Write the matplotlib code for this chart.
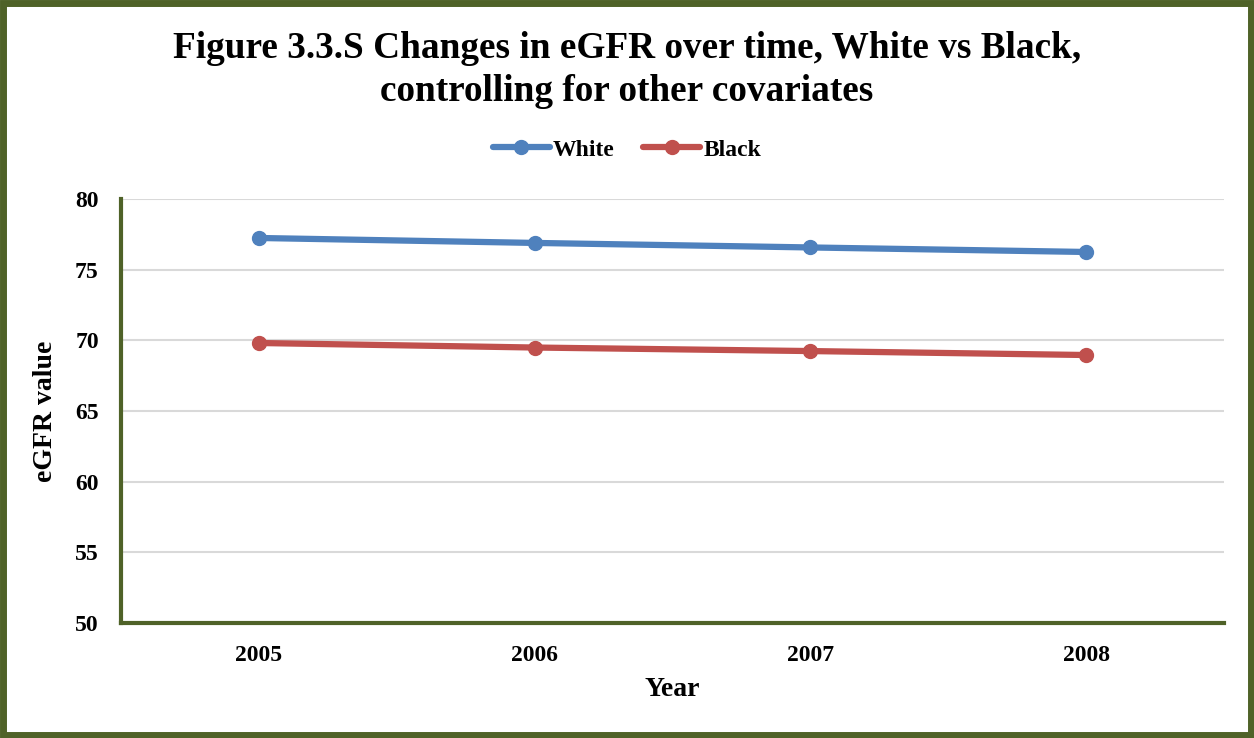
import matplotlib
matplotlib.use("Agg")
import matplotlib.pyplot as plt
from matplotlib.patches import Rectangle

years = ["2005", "2006", "2007", "2008"]
white = [77.24, 76.89, 76.57, 76.25]
black = [69.81, 69.49, 69.24, 68.96]
yticks = [50, 55, 60, 65, 70, 75, 80]

plt.rcParams['font.family'] = ['Liberation Serif', 'DejaVu Serif']
plt.rcParams['font.weight'] = 'bold'

fig = plt.figure(figsize=(12.54, 7.38), dpi=100)
ax = fig.add_axes([0.0965, 0.1558, 0.8795, 0.5746])

x = list(range(len(years)))
ax.plot(x, white, color='#4F81BD', lw=4.5, marker='o', ms=10, label='White', solid_capstyle='round')
ax.plot(x, black, color='#C0504D', lw=4.5, marker='o', ms=10, label='Black', solid_capstyle='round')

ax.set_xlim(-0.5, len(years) - 0.5)
ax.set_ylim(50, 80)
ax.set_yticks(yticks)
ax.set_xticks(x)
ax.set_xticklabels(years)
ax.grid(axis='y', color='#D9D9D9', lw=1.5)
ax.set_axisbelow(True)
for s in ['top', 'right']:
    ax.spines[s].set_visible(False)
for s in ['left', 'bottom']:
    ax.spines[s].set_color('#4F6228')
    ax.spines[s].set_linewidth(3)
ax.tick_params(length=0, labelsize=17)
ax.tick_params(axis='x', pad=16)
ax.tick_params(axis='y', pad=16)
for lab in ax.get_xticklabels() + ax.get_yticklabels():
    lab.set_fontweight('bold')
ax.set_xlabel('Year', fontsize=20, fontweight='bold', labelpad=8)
ax.set_ylabel('eGFR value', fontsize=20, fontweight='bold', labelpad=12)

fig.text(0.5, 0.905, 'Figure 3.3.S Changes in eGFR over time, White vs Black,\ncontrolling for other covariates',
         ha='center', va='center', fontsize=26.8, fontweight='bold', linespacing=1.3)

fig.legend(loc='center', bbox_to_anchor=(0.5, 0.797), ncol=2, frameon=False,
           prop={'size': 17, 'weight': 'bold'}, handlelength=2.4, handletextpad=0.15, columnspacing=1.2)

fig.patches.append(Rectangle((0.002, 0.004), 0.996, 0.992, transform=fig.transFigure,
                             fill=False, edgecolor='#4F6228', lw=5))

fig.savefig('out.png', dpi=100)
